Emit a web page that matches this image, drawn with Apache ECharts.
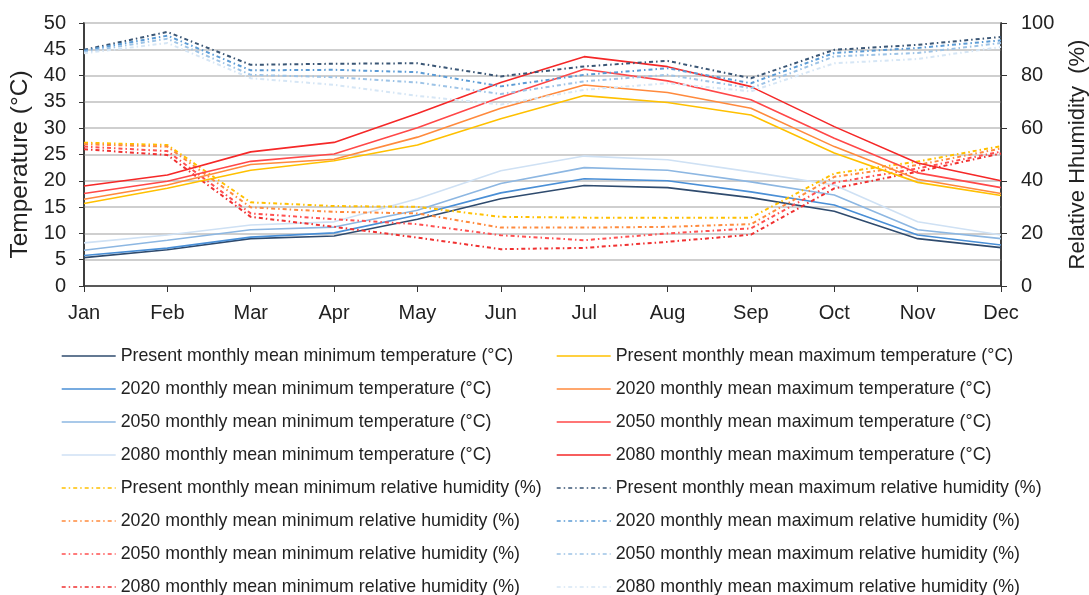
<!DOCTYPE html>
<html><head><meta charset="utf-8">
<script src="https://cdn.jsdelivr.net/npm/echarts@6/dist/echarts.min.js"></script>
<style>html,body{margin:0;padding:0;background:#fff}#c{width:1089px;height:595px}</style>
</head><body><div id="c"></div>
<script>
const months = ['Jan','Feb','Mar','Apr','May','Jun','Jul','Aug','Sep','Oct','Nov','Dec'];

const minT_present = [5.4, 6.9, 9.0, 9.5, 12.7, 16.6, 19.1, 18.7, 16.8, 14.2, 9.0, 7.3];
const minT_2020    = [5.8, 7.2, 9.3, 10.1, 13.5, 17.7, 20.4, 20.0, 17.9, 15.4, 9.7, 7.8];
const minT_2050    = [6.8, 8.7, 10.7, 11.2, 14.4, 19.5, 22.5, 22.0, 19.8, 17.3, 10.7, 9.0];
const minT_2080    = [8.2, 9.7, 11.6, 12.2, 16.6, 21.9, 24.7, 24.0, 21.7, 19.2, 12.2, 9.7];

const maxT_present = [15.7, 18.6, 22.0, 23.8, 26.8, 31.8, 36.2, 34.9, 32.5, 25.3, 19.7, 17.2];
const maxT_2020    = [16.5, 19.2, 23.1, 24.1, 28.3, 33.8, 38.2, 36.8, 33.8, 26.5, 20.3, 17.6];
const maxT_2050    = [17.6, 19.9, 23.7, 25.1, 30.1, 35.9, 41.2, 39.0, 35.4, 28.1, 21.5, 18.7];
const maxT_2080    = [19.0, 21.1, 25.5, 27.3, 32.8, 38.7, 43.6, 41.7, 37.9, 30.3, 23.4, 20.0];

const minRH_present = [54.5, 53.6, 31.8, 30.4, 30.1, 26.3, 26.0, 25.9, 26.0, 42.8, 47.3, 53.2];
const minRH_2020    = [53.9, 53.0, 29.9, 28.2, 27.6, 22.2, 22.2, 22.5, 23.5, 41.5, 46.0, 52.3];
const minRH_2050    = [53.0, 51.3, 27.6, 25.4, 23.5, 19.3, 17.4, 20.0, 21.9, 39.3, 44.7, 51.1];
const minRH_2080    = [52.0, 49.8, 26.3, 22.5, 18.4, 14.0, 14.5, 16.8, 19.5, 37.1, 43.5, 50.4];

const maxRH_present = [89.8, 96.6, 84.1, 84.5, 84.7, 79.7, 83.5, 85.6, 79.0, 89.8, 91.7, 94.7];
const maxRH_2020    = [89.5, 95.2, 82.0, 82.2, 81.3, 75.9, 80.3, 82.8, 77.1, 88.6, 90.5, 93.4];
const maxRH_2050    = [89.0, 94.0, 80.3, 79.4, 77.4, 73.0, 77.8, 80.3, 75.2, 87.3, 88.6, 92.4];
const maxRH_2080    = [88.5, 92.4, 79.0, 76.5, 72.3, 69.0, 74.6, 77.1, 74.0, 84.7, 86.3, 90.9];

const periods = ['Present', '2020', '2050', '2080'];
const minTData = [minT_present, minT_2020, minT_2050, minT_2080];
const maxTData = [maxT_present, maxT_2020, maxT_2050, maxT_2080];
const minRHData = [minRH_present, minRH_2020, minRH_2050, minRH_2080];
const maxRHData = [maxRH_present, maxRH_2020, maxRH_2050, maxRH_2080];

const minTColors = ['#2F4B6E', '#4A8FD6', '#8DB7E2', '#CFE1F4'];
const maxTColors = ['#FFC000', '#FF8A3D', '#FF4848', '#F52828'];
const minRHColors = ['#FFC000', '#FF8A3D', '#FF5050', '#F03030'];
const maxRHColors = ['#3A5675', '#5B9BD5', '#9DC3E6', '#D6E6F5'];

const dashDot = [4, 3, 1.5, 3];
const series = [];
const leftNames = [], rightNames = [];
function add(name, data, color, yIdx, dashed, side) {
  series.push({
    name, type: 'line', data, yAxisIndex: yIdx, symbol: 'none', smooth: false,
    lineStyle: { color, width: dashed ? 2 : 1.6, type: dashed ? dashDot : 'solid' },
    itemStyle: { color }
  });
  (side === 'L' ? leftNames : rightNames).push(name);
}
periods.forEach((p, i) => add(p + ' monthly mean minimum temperature (°C)', minTData[i], minTColors[i], 0, false, 'L'));
periods.forEach((p, i) => add(p + ' monthly mean minimum relative humidity (%)', minRHData[i], minRHColors[i], 1, true, 'L'));
periods.forEach((p, i) => add(p + ' monthly mean maximum temperature (°C)', maxTData[i], maxTColors[i], 0, false, 'R'));
periods.forEach((p, i) => add(p + ' monthly mean maximum relative humidity (%)', maxRHData[i], maxRHColors[i], 1, true, 'R'));

const font = 'Liberation Sans, Arial, sans-serif';
const legendCommon = {
  orient: 'vertical', top: 347, height: 300, padding: 0,
  itemWidth: 54, itemHeight: 14, itemGap: 15,
  itemStyle: { opacity: 0, borderWidth: 0 },
  lineStyle: { width: 1.4 },
  textStyle: { fontFamily: font, fontSize: 17.8, lineHeight: 18, color: '#222' },
  selectedMode: false
};

const chart = echarts.init(document.getElementById('c'), null, { renderer: 'canvas' });
chart.setOption({
  animation: false,
  backgroundColor: '#fff',
  grid: { left: 84, right: 88, top: 23, bottom: 309, outerBoundsMode: 'none', containLabel: false,
          show: true, borderColor: '#333', borderWidth: 1.5, backgroundColor: 'transparent' },
  legend: [
    Object.assign({}, legendCommon, { left: 61, data: leftNames }),
    Object.assign({}, legendCommon, { left: 556, data: rightNames })
  ],
  xAxis: {
    type: 'category', data: months, boundaryGap: false,
    axisLine: { lineStyle: { color: '#333', width: 1.5 } },
    axisTick: { show: true, alignWithLabel: true, length: 6, lineStyle: { color: '#333' } },
    axisLabel: { fontFamily: font, fontSize: 20, color: '#222', margin: 17 },
    splitLine: { show: false }
  },
  yAxis: [
    {
      type: 'value', min: 0, max: 50, interval: 5, position: 'left',
      name: 'Temperature (°C)', nameLocation: 'middle', nameGap: 50, nameRotate: 90,
      nameTextStyle: { fontFamily: font, fontSize: 24.5, color: '#222', padding: [0, 20, 0, 0] },
      axisLine: { show: true, lineStyle: { color: '#333', width: 1.5 } },
      axisTick: { show: true, length: 5, lineStyle: { color: '#333' } },
      axisLabel: { fontFamily: font, fontSize: 20, color: '#222', margin: 18 },
      splitLine: { show: true, lineStyle: { color: '#cfcfcf', width: 2 } }
    },
    {
      type: 'value', min: 0, max: 100, interval: 20, position: 'right',
      name: 'Relative Hhumidity  (%)', nameLocation: 'middle', nameGap: 66, nameRotate: 90,
      nameTextStyle: { fontFamily: font, fontSize: 22, color: '#222' },
      axisLine: { show: true, lineStyle: { color: '#333', width: 1.5 } },
      axisTick: { show: true, length: 6, lineStyle: { color: '#333' } },
      axisLabel: { fontFamily: font, fontSize: 20, color: '#222', margin: 20 },
      splitLine: { show: false }
    }
  ],
  series
});
</script></body></html>
